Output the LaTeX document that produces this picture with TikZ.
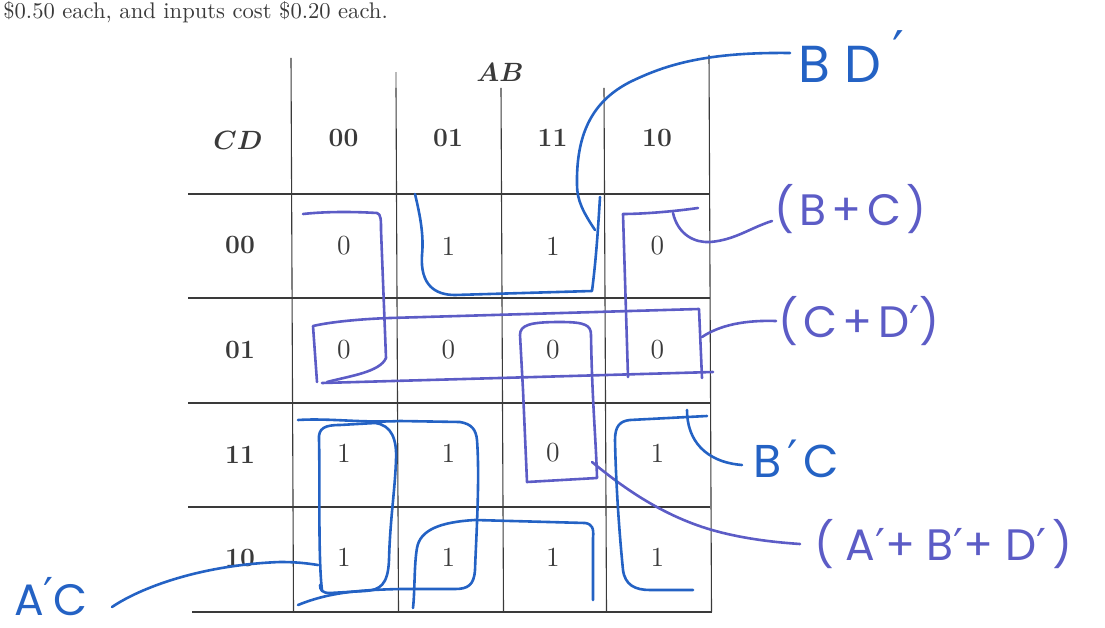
\documentclass[tikz,border=0pt]{standalone}
\usepackage{fontspec}
\newfontfamily\hand[LetterSpace=12]{Poppins}
\newfontfamily\handwide[LetterSpace=26]{Poppins}
\newfontfamily\primefont{DejaVu Sans}
\newcommand{\hp}{{\primefont ′}}
\newcommand{\kmcell}[1]{\scalebox{2.3}{\fontsize{12}{14}\selectfont #1}}
\newcommand{\kmhead}[1]{\scalebox{2.2}{\fontsize{12}{14}\selectfont\bfseries #1}}
\newcommand{\kmvar}[1]{\scalebox{2.2}{\fontsize{12}{14}\selectfont\boldmath $#1$}}
\definecolor{ink}{HTML}{3A3A3A}
\definecolor{penblue}{HTML}{2462C4}
\definecolor{penviolet}{HTML}{5C5CC6}
\begin{document}
\begin{tikzpicture}[x=1pt,y=-1pt,
  gridline/.style={draw=ink, line width=1.1pt},
  faintline/.style={draw=ink!35, line width=1.1pt},
  pen/.style={line width=2.6pt, line cap=round, line join=round},
  blueloop/.style={pen, draw=penblue},
  violetloop/.style={pen, draw=penviolet},
  mapnum/.style={text=ink, inner sep=0pt},
  handblue/.style={font=\hand\fontsize{46}{50}\selectfont, text=penblue, inner sep=2pt},
  handviolet/.style={font=\hand\fontsize{44}{50}\selectfont, text=penviolet, inner sep=2pt}]
\useasboundingbox (0,0) rectangle (1105,628);

% running text above the map
\node[anchor=base east, inner sep=0pt, text=ink]
  (intro) at (388,19) {\scalebox{2.26}{\fontsize{10}{12}\selectfont \$0.50 each, and inputs cost \$0.20 each.}};

% grid of the Karnaugh map
\draw[gridline] (291,58) -- (293.5,612);
\draw[faintline] (396,72) -- (396,88);
\draw[gridline] (396,88) -- (398.5,612);
\draw[gridline] (501,88) -- (503.5,612);
\draw[gridline] (604,88) -- (606.5,612);
\draw[gridline] (709,55) -- (711.5,612);
\foreach \y in {194,298,403,507}
  \draw[gridline] (188,\y) -- (710,\y);
\draw[gridline] (192,612) -- (712,612);

% headings
\node[mapnum] (hAB) at (500,72) {\kmvar{AB}};
\node[mapnum] (hCD) at (238,140) {\kmvar{CD}};
\foreach \t [count=\c] in {00,01,11,10}
  \node[mapnum] (col\t) at ({239+104.5*\c},138) {\kmhead{\t}};
\foreach \t/\y in {00/245,01/350,11/455,10/558}
  \node[mapnum] (row\t) at (240,\y) {\kmhead{\t}};

% cell values
\foreach \v [count=\c] in {0,1,1,0}
  \node[mapnum] (ca\c) at ({239.5+104.5*\c},246) {\kmcell{\v}};
\foreach \v [count=\c] in {0,0,0,0}
  \node[mapnum] (cb\c) at ({239.5+104.5*\c},350) {\kmcell{\v}};
\foreach \v [count=\c] in {1,1,0,1}
  \node[mapnum] (cc\c) at ({239.5+104.5*\c},453) {\kmcell{\v}};
\foreach \v [count=\c] in {1,1,1,1}
  \node[mapnum] (cd\c) at ({239.5+104.5*\c},557) {\kmcell{\v}};

% handwritten labels
\node[handblue, anchor=west, font=\hand\fontsize{52}{56}\selectfont] (lBD) at (796,57)
  {B\hspace{14pt}D\hspace{12pt}\raisebox{14pt}{\hp}};
\node[handviolet, anchor=west] (lBC) at (772,209) {(B+C)};
\node[handviolet, anchor=west] (lCD) at (776,321) {(C+D\hp)};
\node[handblue, anchor=west] (lBpC) at (751,459) {B\hspace{6pt}\raisebox{4pt}{\hp}\hspace{6pt}C};
\node[handviolet, anchor=west, font=\handwide\fontsize{44}{50}\selectfont] (lABD) at (812,544)
  {(A\hp+B\hp+D\hp\hspace{6pt})};
\node[handblue, anchor=west, font=\hand\fontsize{44}{48}\selectfont] (lAC) at (12,597) {A\raisebox{6pt}{\hp}C};

% B D' : top half in row 00, bottom half in row 10
\draw[blueloop] (415,194) .. controls (420,215) and (424,235) .. (422,255)
  .. controls (420,285) and (435,295) .. (455,295) -- (592,291)
  .. controls (596,260) and (598,230) .. (600,197);
\draw[blueloop] (413,608) .. controls (415,590) and (414,565) .. (417,548)
  .. controls (420,530) and (440,522) .. (475,520) -- (585,523)
  .. controls (592,524) and (594,528) .. (593,538) -- (593,600);
\coordinate (bdhook) at (595,230);
\draw[blueloop] (bdhook) .. controls (583,212) and (577,200) .. (577,185)
  .. controls (576,130) and (595,100) .. (630,82)
  .. controls (665,65) and (705,52) .. ([xshift=-6pt,yshift=4pt]lBD.west);

% (B+C) : columns 00 and 10, rows 00 and 01
\draw[violetloop] (303,214) .. controls (330,211) and (360,212) .. (377,213)
  .. controls (381,214) and (381,220) .. (381,230) -- (386,358)
  .. controls (380,372) and (350,376) .. (327,382);
\draw[violetloop] (698,208) .. controls (670,212) and (640,214) .. (623,214) -- (628,377);
\coordinate (bchook) at (673,213);
\draw[violetloop] (bchook) .. controls (678,235) and (695,243) .. (710,242)
  .. controls (735,240) and (750,228) .. ([yshift=-12pt]lBC.west);

% (C+D') : the whole of row 01
\draw[violetloop] (317,382) -- (313,326) .. controls (330,322) and (360,319) .. (390,318)
  -- (699,309) -- (702,378);
\draw[violetloop] (322,383) -- (713,372);
\coordinate (cdhook) at (702,337);
\draw[violetloop] (cdhook) .. controls (720,325) and (745,320) .. (lCD.west);

% (A'+B'+D') : column 11, rows 01 and 11
\draw[violetloop] (527,482) -- (597,478) .. controls (596,440) and (592,400) .. (591,335)
  .. controls (591,325) and (585,322) .. (560,322) .. controls (530,322) and (520,325) .. (520,335)
  -- (523,390) -- cycle;
\coordinate (abdhook) at (592,462);
\draw[violetloop] (abdhook) .. controls (620,485) and (660,515) .. (712,530)
  .. controls (740,538) and (770,542) .. ([xshift=-12pt]lABD.west);

% B'C : columns 00 and 10, rows 11 and 10
\draw[blueloop] (322,590) .. controls (318,560) and (320,470) .. (319,440)
  .. controls (318,428) and (325,425) .. (340,425) -- (375,423)
  .. controls (392,425) and (397,440) .. (396,460)
  .. controls (395,490) and (390,520) .. (389,560)
  .. controls (388,585) and (380,590) .. (365,591) -- (330,593)
  .. controls (322,593) and (320,590) .. (320,585);
\draw[blueloop] (707,416) -- (630,420) .. controls (620,421) and (615,426) .. (615,440)
  .. controls (616,490) and (620,540) .. (623,570)
  .. controls (625,585) and (635,590) .. (650,590) -- (693,590);
\coordinate (bpchook) at (687,410);
\draw[blueloop] (bpchook) .. controls (687,440) and (705,462) .. ([xshift=-9pt,yshift=-6pt]lBpC.west);

% A'C : columns 00 and 01, rows 11 and 10
\draw[blueloop] (298,420) .. controls (330,418) and (360,423) .. (400,421) -- (460,422)
  .. controls (472,424) and (476,430) .. (477,440)
  .. controls (480,480) and (476,540) .. (475,570)
  .. controls (474,585) and (468,589) .. (455,589) -- (400,589)
  .. controls (360,590) and (330,592) .. (298,605);
\coordinate (achook) at (318,565);
\draw[blueloop] (achook) .. controls (305,563) and (295,562) .. (280,562)
  .. controls (200,565) and (140,588) .. ([xshift=22pt,yshift=-10pt]lAC.east);
\end{tikzpicture}
\end{document}
